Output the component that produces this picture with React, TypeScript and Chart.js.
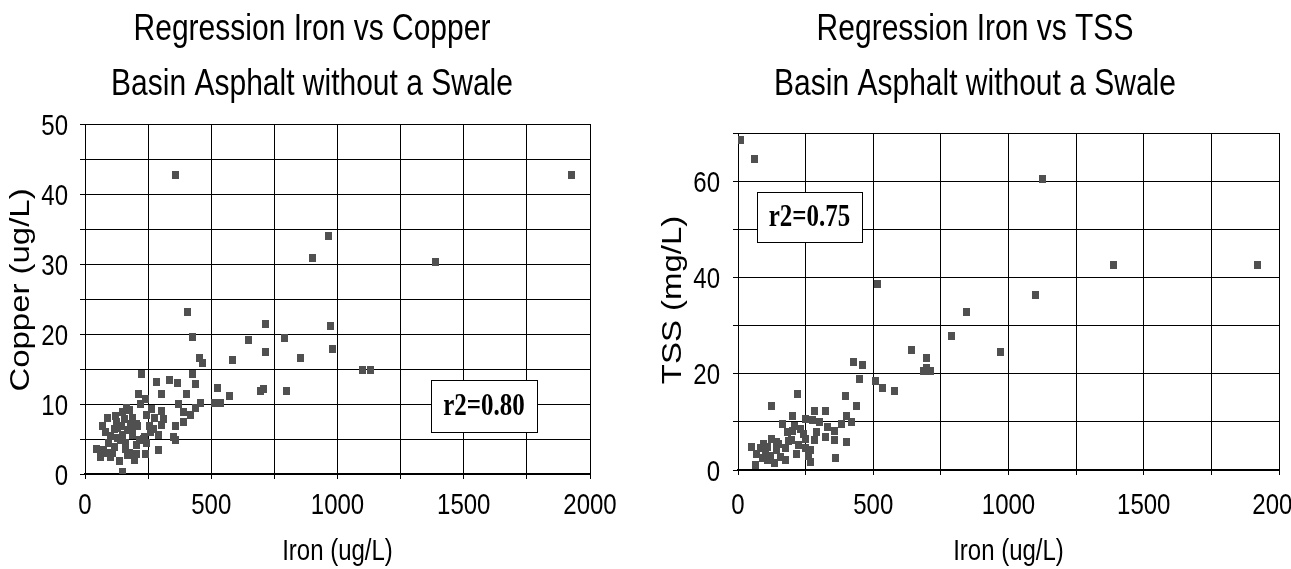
import React, { useEffect, useRef } from 'react';
import { Chart, registerables } from 'chart.js';
Chart.register(...registerables);

// ---- Data: Iron vs Copper ----
const ironCu = [358, 1925, 963, 900, 1390, 405, 713, 973, 426, 646, 790, 713, 980, 453, 466, 585, 855, 1100, 1130, 223, 426, 284, 334, 368, 436, 524, 705, 696, 797, 212, 304, 401, 574, 239, 220, 372, 459, 513, 536, 439, 176, 263, 304, 392, 419, 88, 122, 155, 189, 277, 311, 392, 68, 128, 169, 209, 257, 304, 358, 149, 189, 236, 290, 351, 47, 74, 115, 162, 203, 243, 358, 61, 101, 135, 169, 203, 149, 100, 140, 180, 230, 260, 150, 115, 290, 80, 95, 110, 130, 145, 160, 175, 190, 205, 215, 245, 270, 85, 125, 165, 195, 240];
const copper = [42.7, 42.7, 34.0, 30.8, 30.3, 23.2, 21.4, 21.1, 19.6, 19.1, 19.4, 17.5, 17.9, 16.6, 15.8, 16.3, 16.6, 14.8, 14.8, 14.3, 14.3, 13.2, 13.5, 13.0, 12.9, 12.3, 12.1, 11.8, 11.9, 11.4, 11.4, 11.4, 11.2, 10.7, 10.0, 10.0, 10.2, 10.1, 10.1, 9.5, 9.2, 9.3, 9.0, 8.8, 8.5, 8.0, 8.3, 7.8, 8.0, 8.0, 7.8, 7.5, 6.8, 6.6, 6.3, 6.8, 6.9, 7.0, 6.8, 5.6, 5.6, 5.3, 5.6, 5.3, 3.6, 3.4, 3.9, 3.6, 4.1, 4.4, 4.9, 2.4, 2.4, 1.9, 2.7, 2.9, 0.3, 5.5, 4.8, 7.2, 5.0, 6.0, 8.8, 6.5, 3.5, 6.0, 4.5, 3.0, 5.2, 6.9, 4.5, 3.0, 6.5, 7.2, 4.8, 8.5, 6.5, 3.0, 7.5, 9.5, 2.0, 2.9];

// ---- Data: Iron vs TSS ----
const ironTss = [10, 62, 1125, 1388, 1921, 517, 1099, 845, 789, 640, 971, 697, 697, 684, 713, 428, 461, 448, 507, 534, 577, 220, 397, 437, 123, 203, 282, 322, 401, 421, 163, 209, 275, 381, 183, 242, 289, 355, 401, 50, 83, 110, 143, 196, 249, 282, 322, 355, 70, 103, 143, 176, 222, 269, 269, 361, 64, 110, 156, 216, 249, 90, 120, 135, 175, 150, 185, 230, 250, 300, 330, 260, 95, 200, 125];
const tss = [68.5, 64.6, 60.5, 42.5, 42.6, 38.7, 36.3, 32.9, 27.9, 25.0, 24.5, 23.2, 21.2, 20.5, 20.5, 22.4, 21.9, 19.0, 18.5, 17.0, 16.4, 15.8, 15.4, 13.2, 13.2, 11.3, 12.3, 12.3, 11.3, 9.9, 9.6, 9.2, 10.3, 9.6, 7.9, 7.5, 7.9, 8.2, 5.8, 4.8, 4.5, 4.8, 5.8, 6.2, 6.5, 6.2, 6.8, 6.2, 3.4, 3.4, 4.1, 4.5, 5.1, 4.1, 1.7, 2.4, 1.0, 2.1, 2.7, 3.4, 4.5, 2.5, 3.0, 1.5, 2.0, 5.5, 6.0, 8.5, 10.5, 10.0, 9.0, 3.0, 5.5, 8.0, 6.5];

// ---- Tick labels ----
const xTickLabels = [0, 500, 1000, 1500, 2000];
const yTickLabelsCu = [0, 10, 20, 30, 40, 50];
const yTickLabelsTss = [0, 20, 40, 60];

// ---- Text ----
const titleCu = ['Regression Iron vs Copper', 'Basin Asphalt without a Swale'];
const titleTss = ['Regression Iron vs TSS', 'Basin Asphalt without a Swale'];
const xTitle = 'Iron (ug/L)';
const yTitleCu = 'Copper (ug/L)';
const yTitleTss = 'TSS (mg/L)';
const r2Cu = 'r2=0.80';
const r2Tss = 'r2=0.75';

const SANS = "'Liberation Sans', Arial, sans-serif";
const SERIF = "'Liberation Serif', 'Times New Roman', serif";
const STRETCH = 1.22; // scanned original is taller than wide

type Cfg = {
  xs: number[]; ys: number[]; title: string[]; yTitle: string; yMax: number; yStep: number; yLabels: number[];
  r2: string; box: [number, number, number, number];
  width: number; top: number; bottom: number; left: number; right: number;
  titleX: number; yTitleX: number; yTitleY: number; yLabelGap: number;
};

function txt(ctx: CanvasRenderingContext2D, s: string, x: number, y: number, font: string, align: CanvasTextAlign, base: CanvasTextBaseline, rotate = false, stretch = STRETCH) {
  ctx.save();
  ctx.translate(x, y);
  if (rotate) {
    ctx.rotate(-Math.PI / 2);
    ctx.scale(stretch, 1);
  } else {
    ctx.scale(1, stretch);
  }
  ctx.font = font;
  ctx.textAlign = align;
  ctx.textBaseline = base;
  ctx.fillStyle = '#000';
  ctx.fillText(s, 0, 0);
  ctx.restore();
}

function makePoint() {
  const c = document.createElement('canvas');
  c.width = 7; c.height = 8;
  const g = c.getContext('2d')!;
  g.fillStyle = '#505050';
  g.fillRect(0, 0, 7, 8);
  return c;
}

function makeChart(canvas: HTMLCanvasElement, c: Cfg) {
  const textPlugin = {
    id: 'texts',
    afterDraw(chart: any) {
      const { ctx, scales, chartArea } = chart;
      txt(ctx, c.title[0], c.titleX, 40, `30px ${SANS}`, 'center', 'alphabetic');
      txt(ctx, c.title[1], c.titleX, 95, `30px ${SANS}`, 'center', 'alphabetic');
      xTickLabels.forEach((v) => {
        txt(ctx, String(v), scales.x.getPixelForValue(v), 514, `24px ${SANS}`, 'center', 'alphabetic');
      });
      c.yLabels.forEach((v) => {
        txt(ctx, String(v), chartArea.left - c.yLabelGap, scales.y.getPixelForValue(v) + 10.5, `24px ${SANS}`, 'right', 'alphabetic');
      });
      txt(ctx, xTitle, (chartArea.left + chartArea.right) / 2, 560, `24px ${SANS}`, 'center', 'alphabetic');
      txt(ctx, c.yTitle, c.yTitleX, c.yTitleY, `27px ${SANS}`, 'center', 'middle', true);
    },
  };
  const boxPlugin = {
    id: 'r2box',
    afterDatasetsDraw(chart: any) {
      const { ctx, scales } = chart;
      const [x0, x1, y0, y1] = c.box;
      const l = Math.round(scales.x.getPixelForValue(x0));
      const r = Math.round(scales.x.getPixelForValue(x1));
      const t = Math.round(scales.y.getPixelForValue(y1));
      const b = Math.round(scales.y.getPixelForValue(y0));
      ctx.save();
      ctx.fillStyle = '#fff';
      ctx.fillRect(l, t, r - l, b - t);
      ctx.strokeStyle = '#000';
      ctx.lineWidth = 1;
      ctx.strokeRect(l + 0.5, t + 0.5, r - l, b - t);
      ctx.restore();
      txt(ctx, c.r2, (l + r) / 2, (t + b) / 2 + 1, `bold 25px ${SERIF}`, 'center', 'middle', false, 1.3);
    },
  };
  const pt = makePoint();
  return new Chart(canvas, {
    type: 'scatter',
    data: {
      datasets: [{
        data: c.xs.map((x, i) => ({ x, y: c.ys[i] })),
        pointStyle: pt,
        pointRadius: 4,
        pointHoverRadius: 4,
        backgroundColor: '#505050',
        borderWidth: 0,
      }],
    },
    options: {
      animation: false,
      responsive: true,
      maintainAspectRatio: false,
      events: [],
      layout: { padding: { left: 0, right: c.width - c.right, top: c.top, bottom: 0 } },
      plugins: { legend: { display: false }, tooltip: { enabled: false }, title: { display: false } },
      scales: {
        x: {
          type: 'linear', min: 0, max: 2000,
          ticks: { stepSize: 250, autoSkip: false, display: false },
          grid: { color: '#000', lineWidth: 1, tickLength: 5, drawTicks: true },
          border: { color: '#000', width: 2 },
          afterFit: (s: any) => { s.paddingLeft = 0; s.paddingRight = 0; s.height = 569 - c.bottom; },
        },
        y: {
          type: 'linear', min: 0, max: c.yMax,
          ticks: { stepSize: c.yStep, autoSkip: false, display: false },
          grid: { color: '#000', lineWidth: 1, tickLength: 5, drawTicks: true },
          border: { color: '#000', width: 1 },
          afterFit: (s: any) => { s.width = c.left; s.paddingTop = 0; s.paddingBottom = 0; },
        },
      },
    },
    plugins: [textPlugin, boxPlugin],
  } as any);
}

function Panel({ cfg, left }: { cfg: Cfg; left: number }) {
  const ref = useRef<HTMLCanvasElement | null>(null);
  useEffect(() => {
    if (!ref.current) return;
    const ch = makeChart(ref.current, cfg);
    return () => ch.destroy();
  }, []);
  return (
    <div style={{ position: 'absolute', left, top: 0, width: cfg.width, height: 569 }}>
      <canvas ref={ref} />
    </div>
  );
}

const cfgCu: Cfg = {
  xs: ironCu, ys: copper, title: titleCu, yTitle: yTitleCu, yMax: 50, yStep: 5, yLabels: yTickLabelsCu,
  r2: r2Cu, box: [1372, 1790, 6.0, 13.4], width: 645, top: 124, bottom: 474, left: 85, right: 590,
  titleX: 312, yTitleX: 22, yTitleY: 290, yLabelGap: 17,
};
const cfgTss: Cfg = {
  xs: ironTss, ys: tss, title: titleTss, yTitle: yTitleTss, yMax: 70, yStep: 10, yLabels: yTickLabelsTss,
  r2: r2Tss, box: [70, 460, 47.4, 57.7], width: 646, top: 133, bottom: 470, left: 93, right: 634,
  titleX: 330, yTitleX: 29, yTitleY: 300, yLabelGap: 18,
};

export default function App() {
  return (
    <div style={{ position: 'fixed', left: 0, top: 0, width: 1291, height: 569, background: '#fff', overflow: 'hidden' }}>
      <Panel cfg={cfgCu} left={0} />
      <Panel cfg={cfgTss} left={645} />
    </div>
  );
}
